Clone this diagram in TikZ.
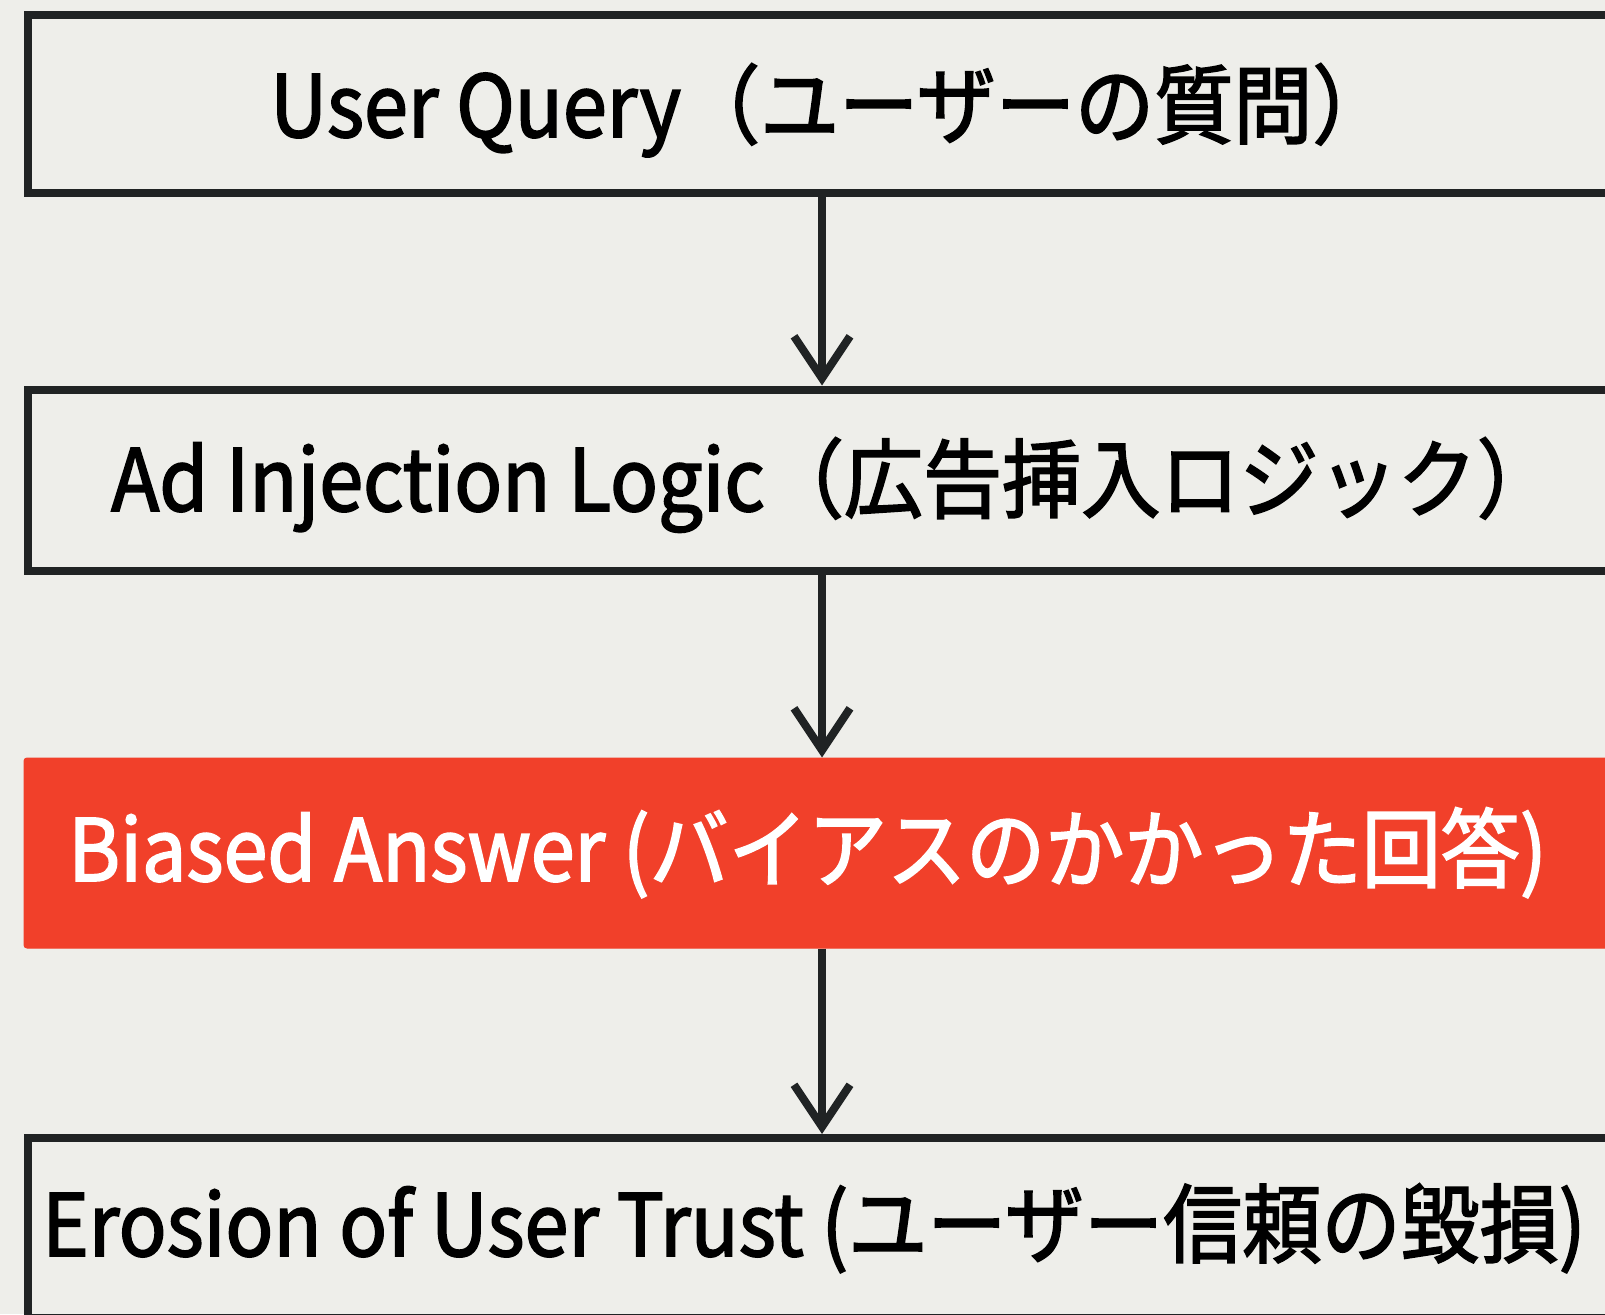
\documentclass[tikz,border=0pt]{standalone}
\usepackage{fontspec}
\setmainfont{Noto Sans CJK JP}[FakeStretch=0.92, FakeBold=2]
\usetikzlibrary{arrows.meta}
\definecolor{bg}{HTML}{EEEEEA}
\definecolor{ink}{HTML}{202324}
\definecolor{hot}{HTML}{F1402A}
\tikzset{
  box/.style={draw=ink, line width=8pt, fill=bg, minimum width=1600pt, inner sep=0pt},
  hotbox/.style={fill=hot, draw=hot, line width=1pt, rounded corners=3pt, minimum width=1600pt, inner sep=0pt},
  lbl/.style={font=\fontsize{86}{100}\selectfont, text=black, inner sep=0pt, anchor=base west},
  wlbl/.style={font=\fontsize{86}{100}\selectfont, text=white, inner sep=0pt, anchor=base west},
  arr/.style={draw=ink, line width=8pt, -{Straight Barb[length=42pt,width=56pt,line width=8pt]}}
}
\begin{document}
\begin{tikzpicture}[x=1pt,y=-1pt]
\useasboundingbox (0,0) rectangle (1605,1314);
\clip (0,0) rectangle (1605,1314);
\fill[bg] (0,0) rectangle (1605,1314);
\node[box, minimum height=178pt] (q) at (828,104) {};
\node[box, minimum height=181pt] (ad) at (828,480) {};
\node[hotbox, minimum height=190pt] (bi) at (824,853) {};
\node[box, minimum height=180pt] (er) at (828,1228) {};
\node[lbl] (qt) at (270,137) {User Query（ユーザーの質問）};
\node[lbl] (adt) at (111,511) {Ad Injection Logic（広告挿入ロジック）};
\node[wlbl] (bit) at (68,881) {Biased Answer (バイアスのかかった回答)};
\node[lbl] (ert) at (42,1256) {Erosion of User Trust (ユーザー信頼の毀損)};
\coordinate (ax) at (822,0);
\draw[arr] (q.south -| ax) -- (ad.north -| ax);
\draw[arr] (ad.south -| ax) -- (bi.north -| ax);
\draw[arr] (bi.south -| ax) -- (er.north -| ax);
\end{tikzpicture}
\end{document}
